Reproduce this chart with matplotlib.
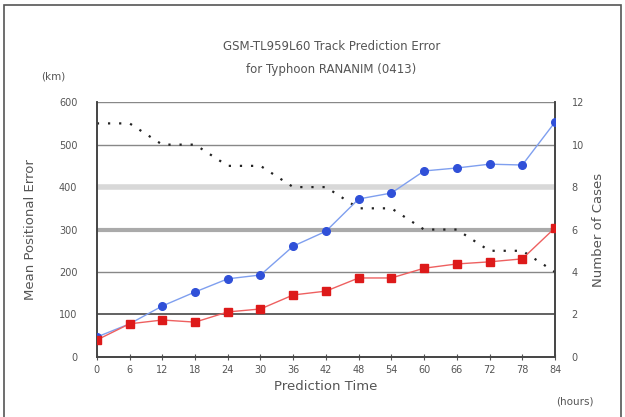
import numpy as np
import matplotlib.pyplot as plt
from matplotlib.patches import Rectangle

hours = [0, 6, 12, 18, 24, 30, 36, 42, 48, 54, 60, 66, 72, 78, 84]
error_blue = [47, 78, 120, 153, 184, 193, 261, 296, 372, 386, 438, 445, 454, 452, 553]
error_red = [40, 78, 87, 82, 106, 113, 146, 155, 186, 186, 209, 219, 224, 231, 304]
cases = [11, 11, 10, 10, 9, 9, 8, 8, 7, 7, 6, 6, 5, 5, 4]
left_ticks = [0, 100, 200, 300, 400, 500, 600]
right_ticks = [0, 2, 4, 6, 8, 10, 12]

txt = '#555555'

fig = plt.figure(figsize=(6.25, 4.17), dpi=100)
fig.patches.append(Rectangle((0.006, -0.01), 0.988, 0.998, transform=fig.transFigure,
                             fill=False, edgecolor='#555555', lw=1.2))

ax = fig.add_axes([0.155, 0.144, 0.733, 0.611])
ax2 = ax.twinx()
ax.set_zorder(ax2.get_zorder() + 1)
ax.patch.set_visible(False)

# horizontal grid lines, each with its own look (drawn on the back axes)
grid_styles = {100: ('#555555', 1.3), 200: ('#888888', 1.0), 300: ('#aaaaaa', 3.0),
               400: ('#d8d8d8', 4.0), 500: ('#888888', 1.0), 600: ('#888888', 1.0)}
for yv, (col, lw) in grid_styles.items():
    ax2.axhline(yv / 50, color=col, lw=lw, zorder=0)

ax2.plot(hours, cases, ls=(0, (1, 4)), color='#222222', lw=1.6, zorder=2)
ax.plot(hours, error_blue, color='#7f9fef', lw=1, marker='o', ms=5.5,
        mfc='#3050d8', mec='#3050d8', zorder=3)
ax.plot(hours, error_red, color='#ee6060', lw=1, marker='s', ms=5.5,
        mfc='#dd1a1a', mec='#dd1a1a', zorder=4)

ax.set_xlim(0, 84)
ax.set_ylim(0, 600)
ax2.set_ylim(0, 12)
ax.set_xticks(hours)
ax.set_yticks(left_ticks)
ax2.set_yticks(right_ticks)

for a in (ax, ax2):
    a.spines['top'].set_visible(False)
    for s in ('left', 'right', 'bottom'):
        a.spines[s].set_color('#444444')
        a.spines[s].set_linewidth(1.2)
    a.tick_params(labelsize=7, colors=txt, length=3, width=0.8)
ax.tick_params(axis='x', direction='inout', length=4)
ax.tick_params(axis='y', length=0, pad=14)
ax2.tick_params(axis='y', length=0, pad=12)

ax.set_ylabel('Mean Positional Error', fontsize=9.5, color=txt, labelpad=16)
ax2.set_ylabel('Number of Cases', fontsize=9.5, color=txt, labelpad=6)
ax.set_xlabel('Prediction Time', fontsize=9.5, color=txt, labelpad=4)
fig.text(0.92, 0.03, '(hours)', fontsize=7.5, color=txt, ha='center')
fig.text(0.085, 0.81, '(km)', fontsize=7.5, color=txt, ha='center')
fig.text(0.53, 0.88, 'GSM-TL959L60 Track Prediction Error', fontsize=8.5, color=txt, ha='center')
fig.text(0.53, 0.825, 'for Typhoon RANANIM (0413)', fontsize=8.5, color=txt, ha='center')

fig.savefig('out.png', dpi=100)
